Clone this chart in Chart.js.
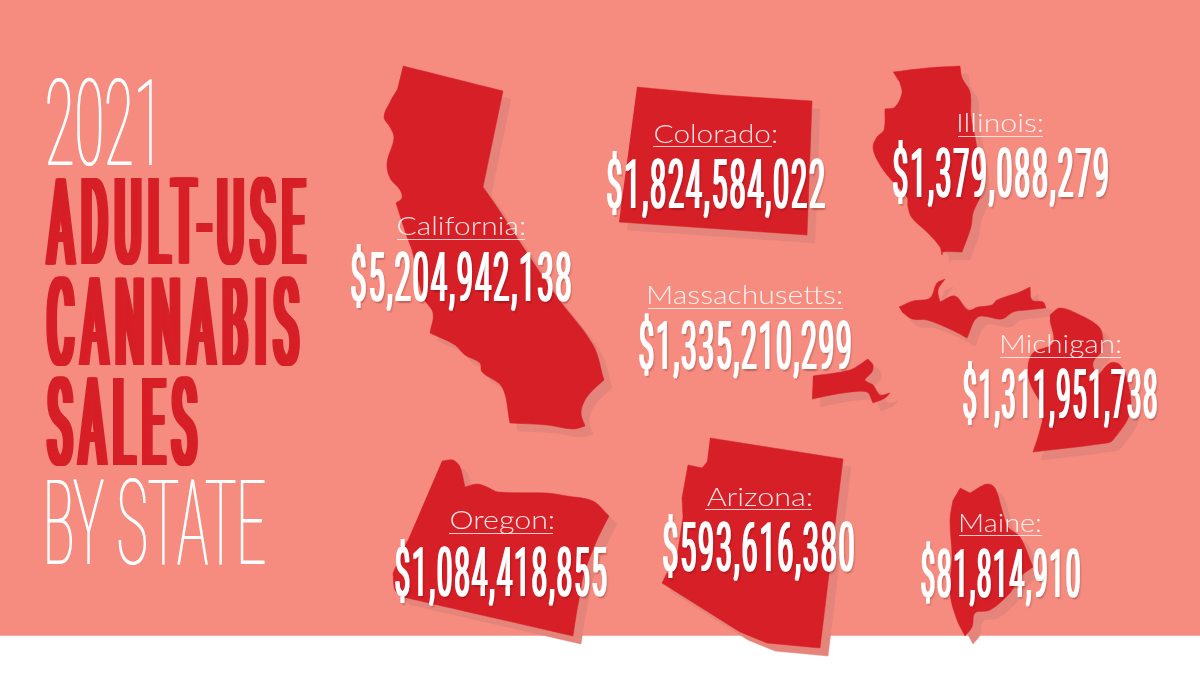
<!DOCTYPE html>
<html>
<head>
<meta charset="utf-8">
<title>2021 Adult-Use Cannabis Sales by State</title>
<script src="https://cdn.jsdelivr.net/npm/chart.js@4"></script>
<style>
  html, body { margin: 0; padding: 0; background: #fff; }
  #chart { display: block; background: #f68c7f; }
</style>
</head>
<body>
<canvas id="chart" width="1200" height="675"></canvas>
<script>
const stateNames = ['California', 'Colorado', 'Illinois', 'Massachusetts', 'Michigan', 'Oregon', 'Arizona', 'Maine']
const stateSales = [5204942138, 1824584022, 1379088279, 1335210299, 1311951738, 1084418855, 593616380, 81814910]
const titleLines = ['2021', 'ADULT-USE', 'CANNABIS', 'SALES', 'BY STATE']

// state outlines (x, y on the 1200x675 map scale)
// a repeated point keeps a hard corner when the line is smoothed
const california = [[403,66],[403,66],[503,91],[503,91],[483,187],[483,187],[497,207],[527,253],[557,297],[593,345],[604,380],[604,380],[593,390],[585,400],[581,413],[585,426],[585,426],[573,429],[547,425],[510,423],[510,423],[502,387],[482,372],[480,363],[465,355],[455,345],[430,333],[430,333],[433,313],[423,297],[412,250],[407,237],[396,203],[396,203],[402,198],[400,190],[390,178],[387,163],[394,138],[390,127],[384,117],[390,102],[397,90]]
const colorado = [[637,87],[720,95],[812,101],[807,235],[619,222]]
const illinois = [[893,72],[893,72],[927,68],[960,66],[960,66],[962,78],[970,92],[971,117],[975,137],[980,167],[981,193],[973,213],[971,227],[962,252],[962,252],[943,252],[942,255],[940,247],[927,232],[912,218],[908,207],[907,197],[893,182],[880,165],[873,148],[877,137],[884,130],[885,109],[885,109],[895,107],[902,93],[900,83]]
const massachusetts = [[813,376],[813,376],[850,370],[868,359],[868,359],[873,365],[872,372],[865,380],[873,385],[880,395],[890,393],[890,393],[885,398],[873,403],[873,403],[867,392],[843,393],[812,399],[812,399]]
const michiganUpper = [[899,307],[913,301],[930,298],[937,283],[945,279],[945,279],[938,290],[940,302],[940,302],[955,296],[968,310],[978,307],[992,305],[997,300],[1020,292],[1030,287],[1030,287],[1032,300],[1043,302],[1046,308],[1046,308],[1027,310],[1013,312],[1002,319],[978,317],[967,338],[967,338],[952,330],[927,320],[912,319],[902,312]]
const michiganLower = [[1050,315],[1060,308],[1080,315],[1097,325],[1102,333],[1102,350],[1093,363],[1097,377],[1097,377],[1110,363],[1120,365],[1128,383],[1130,413],[1113,440],[1107,443],[1033,452],[1033,452],[1040,430],[1043,410],[1030,383],[1028,367],[1033,353],[1053,343],[1050,320]]
const oregon = [[442,461],[442,461],[453,460],[460,467],[465,487],[465,487],[477,484],[487,487],[498,492],[547,493],[567,496],[593,501],[609,516],[609,516],[597,540],[583,577],[579,600],[577,610],[573,636],[573,636],[403,597],[403,597],[395,590],[393,573],[393,573],[408,540]]
const arizona = [[710,438],[843,459],[820,648],[767,643],[740,632],[662,583],[667,573],[673,570],[677,557],[683,517],[682,498],[688,465],[702,468],[707,462]]
const maine = [[960,488],[970,493],[970,493],[987,484],[995,488],[1002,510],[1008,527],[1020,537],[1033,567],[1033,567],[1020,577],[1010,593],[990,610],[975,613],[972,627],[965,636],[965,636],[957,620],[950,593],[952,557],[950,520],[953,500]]
const whiteBand = [[0,636],[1200,636],[1200,675],[0,675]]

const outlines = [california, colorado, illinois, massachusetts, michiganUpper, michiganLower, oregon, arizona, maine]
const outlineTension = [0.35, 0, 0.35, 0.3, 0.35, 0.35, 0.3, 0, 0.35]

// layout of the texts: [left, right, top of digits, bottom of digits]
const valueBoxes = [[351,571,252,301],[607,825,159,208],[893,1108,148,197],[639,851,321,369],[963,1157,369,418],[395,607,547,596],[663,854,522,571],[921,1080,549,597]]
// [left, right, baseline, underline y, underline left, underline right]
const nameBoxes = [[398,524,235,239,397,525],[655,776,143,146,653,772],[959,1042,132,136,958,1043],[649,841,304,308,648,843],[1002,1120,353,357,1000,1121],[451,553,529,533,449,553],[707,811,506,509,705,812],[961,1040,532,535,959,1042]]
const titleBoxes = [[47,152,78,165],[45,307,179,264],[46,300,278,365],[46,198,378,465],[47,265,479,564]]

const RED = '#d71f27'
const SHADOW = '#e4847a'
const SHADOW_OFFSET = 8

const toPoints = shape => shape.map(p => ({x: p[0], y: p[1]}))
const shapeSet = (data, color, order, tension) => ({
    data, backgroundColor: color, borderColor: color, borderWidth: 0.5,
    showLine: true, fill: 'shape', pointRadius: 0, tension, order
})

const datasets = [shapeSet(toPoints(whiteBand), '#ffffff', 3, 0)]
outlines.forEach((shape, i) => {
    datasets.push(shapeSet(shape.map(p => ({x: p[0] + SHADOW_OFFSET, y: p[1] + SHADOW_OFFSET})), SHADOW, 2, outlineTension[i]))
    datasets.push(shapeSet(toPoints(shape), RED, 1, outlineTension[i]))
})

// squeeze a text into a box, the way the condensed face of the poster sits.
// thicken widens the upright strokes only, spacing is in px of the 100px font
function fitText(ctx, scales, text, box, style) {
    const [left, right, top, bottom] = box
    const {font, color, thicken = 0, spacing = 0} = style
    ctx.save()
    ctx.font = font
    ctx.letterSpacing = spacing + 'px'
    ctx.textAlign = 'left'
    ctx.textBaseline = 'alphabetic'
    ctx.fillStyle = color
    const whole = ctx.measureText(text)
    const ref = ctx.measureText('E')
    const x0 = scales.x.getPixelForValue(left) + thicken / 2
    const x1 = scales.x.getPixelForValue(right) - thicken / 2
    const y0 = scales.y.getPixelForValue(top)
    const y1 = scales.y.getPixelForValue(bottom)
    const sx = (x1 - x0) / (whole.actualBoundingBoxLeft + whole.actualBoundingBoxRight)
    const sy = (y1 - y0) / (ref.actualBoundingBoxAscent + ref.actualBoundingBoxDescent)
    const baseX = x0 + whole.actualBoundingBoxLeft * sx
    const baseY = y1 - ref.actualBoundingBoxDescent * sy
    const steps = Math.ceil(thicken)
    for (let k = 0; k <= steps; k++) {
        const dx = steps ? -thicken / 2 + thicken * k / steps : 0
        ctx.save()
        ctx.translate(baseX + dx, baseY)
        ctx.scale(sx, sy)
        ctx.fillText(text, 0, 0)
        ctx.restore()
    }
    ctx.restore()
}

const titleStyles = [
    {font: '100 100px Roboto', color: '#ffffff', thicken: 1},
    {font: '400 100px Roboto', color: RED, thicken: 7, spacing: 20},
    {font: '400 100px Roboto', color: RED, thicken: 7, spacing: 20},
    {font: '400 100px Roboto', color: RED, thicken: 7, spacing: 20},
    {font: '100 100px Roboto', color: '#ffffff', thicken: 1}
]

const posterText = {
    id: 'posterText',
    afterDatasetsDraw(chart) {
        const {ctx, scales} = chart
        titleLines.forEach((line, i) => fitText(ctx, scales, line, titleBoxes[i], titleStyles[i]))

        stateNames.forEach((name, i) => {
            const [left, right, base, lineY, lineL, lineR] = nameBoxes[i]
            fitText(ctx, scales, name + ':', [left, right, base - 19, base], {font: '300 100px Lato', color: 'rgba(255,255,255,0.88)'})
            ctx.save()
            ctx.strokeStyle = 'rgba(255,255,255,0.75)'
            ctx.lineWidth = 1
            ctx.beginPath()
            ctx.moveTo(scales.x.getPixelForValue(lineL), scales.y.getPixelForValue(lineY) + 0.5)
            ctx.lineTo(scales.x.getPixelForValue(lineR), scales.y.getPixelForValue(lineY) + 0.5)
            ctx.stroke()
            ctx.restore()

            const label = '$' + stateSales[i].toLocaleString('en-US')
            ctx.save()
            ctx.shadowColor = 'rgba(90,20,20,0.12)'
            ctx.shadowOffsetX = 1.5
            ctx.shadowOffsetY = 1.5
            ctx.shadowBlur = 1.5
            fitText(ctx, scales, label, valueBoxes[i], {font: '400 100px Roboto', color: '#ffffff', thicken: 2, spacing: 8})
            ctx.restore()
        })
    }
}

new Chart(document.getElementById('chart').getContext('2d'), {
    type: 'scatter',
    data: {datasets},
    options: {
        responsive: false,
        animation: false,
        devicePixelRatio: 1,
        layout: {padding: 0},
        scales: {
            x: {type: 'linear', min: 0, max: 1200, display: false},
            y: {type: 'linear', min: 0, max: 675, reverse: true, display: false}
        },
        plugins: {legend: {display: false}, tooltip: {enabled: false}}
    },
    plugins: [posterText]
})
</script>
</body>
</html>
